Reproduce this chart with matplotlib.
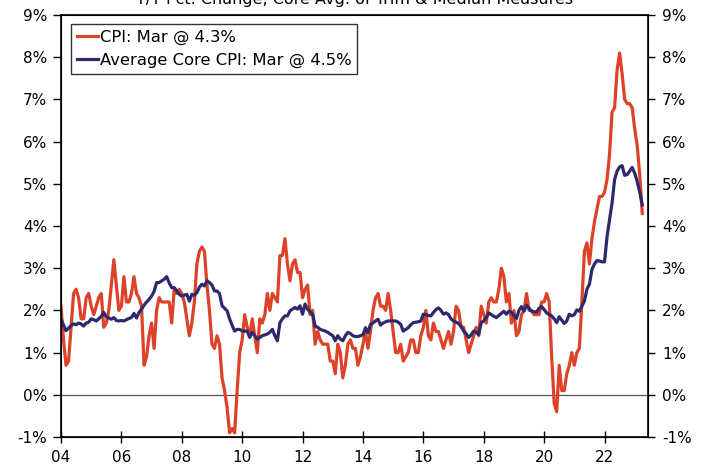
"""Canada CPI vs average of core trim & median measures, Y/Y % change."""

import matplotlib
matplotlib.use("Agg")
import matplotlib.pyplot as plt
import numpy as np

# monthly, Dec 2003 .. Mar 2023 (first value is Dec 2003)
cpi = [2.1,
       1.3, 0.7, 0.8, 1.6, 2.4, 2.5, 2.3, 1.8, 1.8, 2.3, 2.4, 2.1,   # 2004
       1.9, 2.1, 2.3, 2.4, 1.6, 1.7, 2.0, 2.6, 3.2, 2.6, 2.0, 2.1,   # 2005
       2.8, 2.2, 2.2, 2.4, 2.8, 2.4, 2.3, 2.1, 0.7, 0.9, 1.4, 1.7,   # 2006
       1.1, 2.0, 2.3, 2.2, 2.2, 2.2, 2.2, 1.7, 2.5, 2.4, 2.5, 2.4,   # 2007
       2.2, 1.8, 1.4, 1.7, 2.2, 3.1, 3.4, 3.5, 3.4, 2.6, 2.0, 1.2,   # 2008
       1.1, 1.4, 1.2, 0.4, 0.1, -0.3, -0.9, -0.8, -0.9, 0.1, 1.0, 1.3,  # 2009
       1.9, 1.6, 1.4, 1.8, 1.4, 1.0, 1.8, 1.7, 1.9, 2.4, 2.0, 2.4,   # 2010
       2.3, 2.2, 3.3, 3.3, 3.7, 3.1, 2.7, 3.1, 3.2, 2.9, 2.9, 2.3,   # 2011
       2.5, 2.6, 1.9, 2.0, 1.2, 1.5, 1.3, 1.2, 1.2, 1.2, 0.8, 0.8,   # 2012
       0.5, 1.2, 1.0, 0.4, 0.7, 1.2, 1.3, 1.1, 1.1, 0.7, 0.9, 1.2,   # 2013
       1.5, 1.1, 1.5, 2.0, 2.3, 2.4, 2.1, 2.1, 2.0, 2.4, 2.0, 1.5,   # 2014
       1.0, 1.0, 1.2, 0.8, 0.9, 1.0, 1.3, 1.3, 1.0, 1.0, 1.4, 1.6,   # 2015
       2.0, 1.4, 1.3, 1.7, 1.5, 1.5, 1.3, 1.1, 1.3, 1.5, 1.2, 1.5,   # 2016
       2.1, 2.0, 1.6, 1.6, 1.3, 1.0, 1.2, 1.4, 1.6, 1.4, 2.1, 1.9,   # 2017
       1.7, 2.2, 2.3, 2.2, 2.2, 2.5, 3.0, 2.8, 2.2, 2.4, 1.7, 2.0,   # 2018
       1.4, 1.5, 1.9, 2.0, 2.4, 2.0, 2.0, 1.9, 1.9, 1.9, 2.2, 2.2,   # 2019
       2.4, 2.2, 0.9, -0.2, -0.4, 0.7, 0.1, 0.1, 0.5, 0.7, 1.0, 0.7,  # 2020
       1.0, 1.1, 2.2, 3.4, 3.6, 3.1, 3.7, 4.1, 4.4, 4.7, 4.7, 4.8,   # 2021
       5.1, 5.7, 6.7, 6.8, 7.7, 8.1, 7.6, 7.0, 6.9, 6.9, 6.8, 6.3,   # 2022
       5.9, 5.2, 4.3]                                                # 2023

core = [1.80,
        1.65, 1.52, 1.58, 1.64, 1.68, 1.66, 1.70, 1.68, 1.63, 1.70, 1.72, 1.80,  # 2004
        1.78, 1.75, 1.80, 1.86, 1.95, 1.85, 1.82, 1.79, 1.83, 1.76, 1.75, 1.76,  # 2005
        1.75, 1.78, 1.81, 1.83, 1.93, 1.82, 1.95, 2.03, 2.12, 2.20, 2.26, 2.34,  # 2006
        2.45, 2.66, 2.66, 2.70, 2.74, 2.80, 2.65, 2.54, 2.54, 2.46, 2.38, 2.34,  # 2007
        2.36, 2.38, 2.22, 2.38, 2.36, 2.42, 2.55, 2.62, 2.58, 2.70, 2.66, 2.60,  # 2008
        2.46, 2.46, 2.40, 2.11, 2.05, 1.99, 1.80, 1.65, 1.51, 1.55, 1.55, 1.51,  # 2009
        1.51, 1.51, 1.36, 1.48, 1.40, 1.32, 1.36, 1.40, 1.42, 1.44, 1.48, 1.55,  # 2010
        1.40, 1.28, 1.71, 1.80, 1.87, 1.87, 1.99, 2.03, 2.07, 2.03, 2.11, 1.91,  # 2011
        2.15, 2.03, 1.96, 1.91, 1.63, 1.60, 1.55, 1.53, 1.51, 1.48, 1.44, 1.40,  # 2012
        1.28, 1.40, 1.32, 1.28, 1.40, 1.48, 1.45, 1.40, 1.38, 1.38, 1.40, 1.42,  # 2013
        1.59, 1.47, 1.67, 1.70, 1.75, 1.79, 1.65, 1.70, 1.73, 1.75, 1.75, 1.75,  # 2014
        1.75, 1.72, 1.67, 1.51, 1.55, 1.59, 1.66, 1.71, 1.72, 1.73, 1.75, 1.91,  # 2015
        1.90, 1.88, 1.87, 1.95, 2.02, 2.06, 2.00, 1.91, 1.94, 1.90, 1.80, 1.75,  # 2016
        1.72, 1.69, 1.62, 1.51, 1.45, 1.36, 1.42, 1.51, 1.48, 1.43, 1.71, 1.75,  # 2017
        1.83, 1.94, 1.90, 1.86, 1.83, 1.88, 1.93, 1.98, 1.91, 1.98, 1.95, 1.88,  # 2018
        1.81, 2.00, 2.09, 1.98, 2.12, 2.05, 1.98, 1.97, 1.96, 2.05, 2.09, 2.02,  # 2019
        1.94, 1.90, 1.87, 1.80, 1.71, 1.85, 1.77, 1.69, 1.75, 1.91, 1.87, 1.90,  # 2020
        2.01, 1.98, 2.10, 2.22, 2.50, 2.62, 2.97, 3.10, 3.18, 3.17, 3.15, 3.15,  # 2021
        3.75, 4.15, 4.55, 5.10, 5.30, 5.40, 5.43, 5.20, 5.22, 5.30, 5.39, 5.25,  # 2022
        5.05, 4.80, 4.50]                                                         # 2023

xticks = list(range(2004, 2023, 2))
xtick_labels = [f"{y % 100:02d}" for y in xticks]
yticks = list(range(-1, 10))
ytick_labels = [f"{v}%" for v in yticks]

RED = "#DD4128"
NAVY = "#2C2A6C"

# month-end positions: Dec 2003 sits on the 2004 tick
x = 2004 + np.arange(len(cpi)) / 12.0

plt.rcParams["font.family"] = ["DejaVu Sans"]
plt.rcParams["font.size"] = 11

fig = plt.figure(figsize=(7.09, 4.69), dpi=100)
ax = fig.add_axes([61 / 709, 1 - 437 / 469, (648 - 61) / 709, (437 - 15) / 469])

ax.axhline(0, color="#555555", lw=0.9, zorder=1)
ax.plot(x, cpi, color=RED, lw=2.3, label="CPI: Mar @ 4.3%", zorder=3)
ax.plot(x, core, color=NAVY, lw=2.3, label="Average Core CPI: Mar @ 4.5%", zorder=4)

ax.set_xlim(2004, 2023.44)
ax.set_ylim(-1, 9)
ax.set_xticks(xticks)
ax.set_xticklabels(xtick_labels)
ax.set_yticks(yticks)
ax.set_yticklabels(ytick_labels)
ax.tick_params(axis="y", direction="out", length=6, width=1, color="black", pad=4)
ax.tick_params(axis="x", direction="inout", length=8, width=1, color="black", pad=5)
for s in ax.spines.values():
    s.set_linewidth(1.2)

ax2 = ax.twinx()
ax2.set_ylim(-1, 9)
ax2.set_yticks(yticks)
ax2.set_yticklabels(ytick_labels)
ax2.tick_params(direction="out", length=5, width=1, color="black", pad=5)

leg = ax.legend(loc="upper left", bbox_to_anchor=(0.017, 0.978), fontsize=11.8,
                frameon=True, fancybox=False, edgecolor="black",
                handlelength=1.3, handletextpad=0.1, borderpad=0.35,
                labelspacing=0.45, borderaxespad=0)
leg.get_frame().set_linewidth(1.0)

fig.text(0.5, 1 - 4 / 469, "Y/Y Pct. Change, Core Avg. of Trim & Median Measures",
         ha="center", va="baseline", fontsize=11.5)

fig.savefig("out.png", dpi=100)
plt.close(fig)
